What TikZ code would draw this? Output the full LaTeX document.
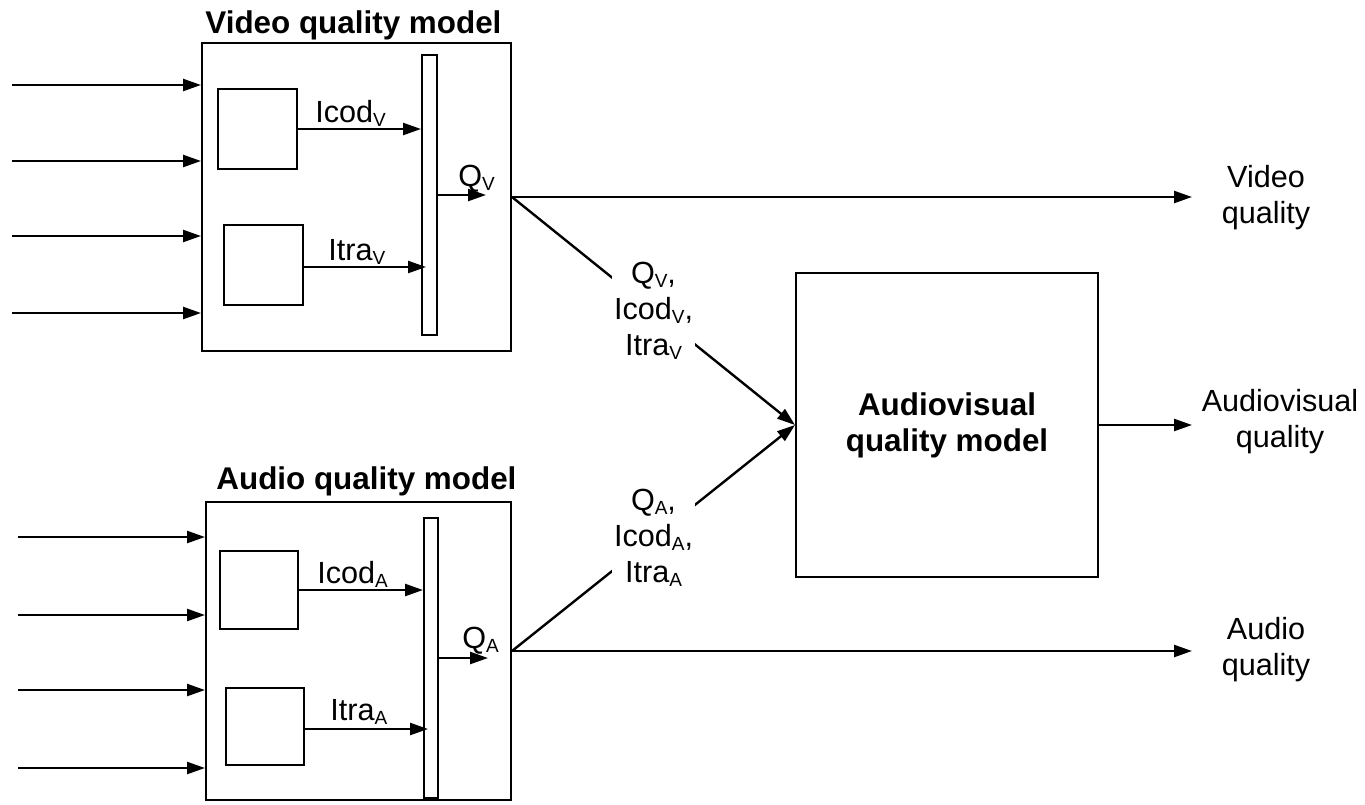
\documentclass[tikz,border=0pt]{standalone}
\usepackage{fontspec}
\setmainfont{Liberation Sans}
\usetikzlibrary{arrows.meta,positioning}

\newcommand{\lowsub}[1]{\raisebox{-2pt}{\fontsize{9.5}{10}\selectfont #1}}

\tikzset{
    block/.style={draw, line width=1pt, inner sep=0pt},
    flow/.style={line width=1.2pt, -{Triangle[length=9pt,width=6pt]}},
    lbl/.style={inner sep=0pt, font=\fontsize{15.3}{18}\selectfont, align=center},
    ttl/.style={inner sep=0pt, font=\fontsize{15.7}{18}\selectfont\bfseries, anchor=base west},
}

\begin{document}
\begin{tikzpicture}[x=0.5pt, y=-0.5pt]
    \useasboundingbox (0,0) rectangle (1365,804);

    % video quality model
    \node [block, minimum width=154.5pt, minimum height=154pt] (vbox) at (356.5,197) {};
    \node [block, minimum width=39.5pt, minimum height=40pt]  (vcod) at (257.5,129) {};
    \node [block, minimum width=39.5pt, minimum height=40pt]  (vtra) at (263.5,265) {};
    \node [block, minimum width=7.5pt, minimum height=140pt]  (vbar) at (429.5,195) {};
    \node [ttl] (vtitle) at (205,33) {Video quality model};

    % audio quality model
    \node [block, minimum width=152.5pt, minimum height=149pt] (abox) at (358.5,651) {};
    \node [block, minimum width=39pt, minimum height=39pt]   (acod) at (259,590) {};
    \node [block, minimum width=39pt, minimum height=38.5pt] (atra) at (265,726.5) {};
    \node [block, minimum width=7pt, minimum height=140pt]   (abar) at (431,658) {};
    \node [ttl] (atitle) at (216,489) {Audio quality model};

    % audiovisual quality model
    \node [block, minimum width=151pt, minimum height=152pt, align=center,
           font=\fontsize{15.7}{18}\selectfont\bfseries] (avbox) at (947,425)
          {Audiovisual\\quality model};

    % inputs
    \foreach \y [count=\i] in {85,161,236,313} {
        \coordinate (vin\i) at (12,\y);
        \draw [flow] (vin\i) -- (vin\i -| vbox.west);
    }
    \foreach \y [count=\i] in {537,615,690,768} {
        \coordinate (ain\i) at (18,\y);
        \draw [flow] (ain\i) -- (ain\i -| abox.west);
    }

    % internal signals
    \draw [flow] (vcod.east) -- (vcod.east -| vbar.west);
    \coordinate (vtr) at ([yshift=-1pt]vtra.east);
    \draw [flow] (vtr) -- ([xshift=2.5pt]vtr -| vbar.west);
    \coordinate (vq) at (486,195);
    \draw [flow] (vq -| vbar.east) -- (vq);
    \node [lbl, anchor=base west] (vcodlab) at (315,122) {Icod\lowsub{V}};
    \node [lbl, anchor=base west] (vtralab) at (328,260) {Itra\lowsub{V}};
    \node [lbl, anchor=base west] (vqlab)   at (458,186) {Q\lowsub{V}};

    \draw [flow] (acod.east) -- (acod.east -| abar.west);
    \coordinate (atr) at ([yshift=-1.25pt]atra.east);
    \draw [flow] (atr) -- ([xshift=2.5pt]atr -| abar.west);
    \coordinate (aq) at (488,658);
    \draw [flow] (aq -| abar.east) -- (aq);
    \node [lbl, anchor=base west] (acodlab) at (317,583) {Icod\lowsub{A}};
    \node [lbl, anchor=base west] (atralab) at (330,720) {Itra\lowsub{A}};
    \node [lbl, anchor=base west] (aqlab)   at (462,648) {Q\lowsub{A}};

    % outputs
    \node [lbl] (vqual)  at (1266,198) {Video\\quality};
    \node [lbl] (avqual) at (1280,422) {Audiovisual\\quality};
    \node [lbl] (aqual)  at (1266,650) {Audio\\quality};
    \coordinate (vout)  at (1192,197);
    \coordinate (avout) at (1192,425);
    \coordinate (aout)  at (1192,651);
    \draw [flow] (vbox.east) -- (vout);
    \draw [flow] (avbox.east) -- (avout);
    \draw [flow] (abox.east) -- (aout);

    % into the audiovisual model
    \draw [flow] (vbox.east) -- (avbox.west)
        node [lbl, midway, fill=white, inner sep=1pt] (vpar)
        {Q\lowsub{V},\\Icod\lowsub{V},\\Itra\lowsub{V}};
    \draw [flow] (abox.east) -- (avbox.west)
        node [lbl, midway, fill=white, inner sep=1pt] (apar)
        {Q\lowsub{A},\\Icod\lowsub{A},\\Itra\lowsub{A}};
\end{tikzpicture}
\end{document}
